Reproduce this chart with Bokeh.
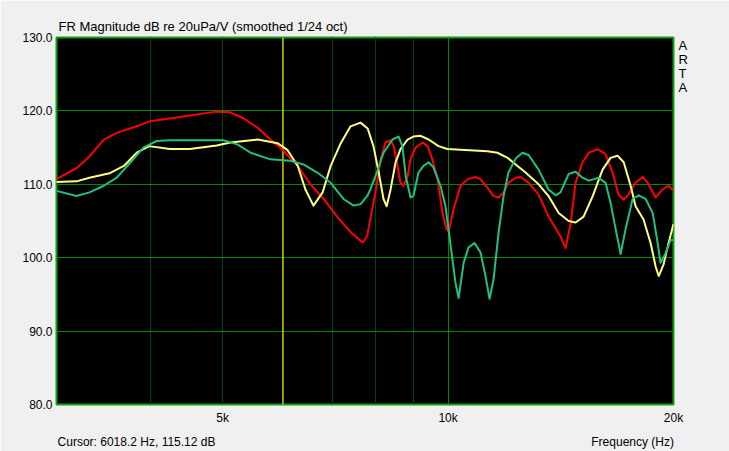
from bokeh.plotting import figure
from bokeh.models import FixedTicker, Grid, Span, PrintfTickFormatter, LinearAxis, LogAxis
from bokeh.embed import file_html
from bokeh.resources import INLINE

# ---------------- data ----------------
red_freq = [3000, 3190, 3320, 3470, 3610, 3840, 4000, 4340, 4910, 5120,
            5330, 5570, 5790, 6010, 6300, 6550, 6820, 7120, 7410, 7640,
            7700, 7800, 7880, 8000, 8130, 8250, 8380, 8460, 8560, 8640,
            8720, 8830, 8910, 9050, 9250, 9390, 9530, 9680, 9830, 9950,
            10020, 10170, 10390, 10620, 10880, 11050, 11290, 11500, 11680, 11860,
            12040, 12310, 12500, 12810, 13210, 13620, 13920, 14130, 14350, 14580,
            14800, 15120, 15410, 15840, 16230, 16580, 16890, 17160, 17420, 17800,
            18190, 18470, 18930, 19340, 19700, 20000]
red_db = [110.7, 112.2, 113.8, 116.1, 117.0, 117.9, 118.6, 119.1, 119.9, 119.8,
          119.0, 117.7, 116.1, 114.7, 112.5, 110.0, 108.0, 105.5, 103.5, 102.3,
          102.1, 103.0, 105.5, 108.9, 113.4, 115.7, 116.0, 115.2, 112.5, 110.2,
          109.8, 111.1, 113.4, 115.0, 115.7, 115.2, 113.4, 110.7, 106.1, 103.9,
          103.6, 106.6, 109.8, 110.7, 111.0, 110.7, 109.5, 108.4, 108.2, 108.9,
          110.2, 110.9, 111.0, 110.2, 108.6, 105.6, 104.0, 102.9, 101.3, 104.7,
          110.2, 113.0, 114.3, 114.8, 114.1, 111.6, 108.6, 107.9, 108.6, 110.2,
          111.0, 110.2, 108.2, 109.3, 109.8, 109.1]

green_freq = [3000, 3190, 3320, 3470, 3610, 3760, 3920, 4080, 4250, 4910,
              5010, 5240, 5450, 5790, 6160, 6410, 6690, 6970, 7250, 7480,
              7640, 7810, 7880, 8000, 8200, 8430, 8590, 8690, 8780, 8910,
              8990, 9130, 9270, 9420, 9560, 9770, 9920, 10080, 10230, 10330,
              10490, 10650, 10850, 11050, 11220, 11360, 11500, 11680, 11860, 12040,
              12310, 12570, 12810, 13210, 13620, 13920, 14130, 14490, 14800, 15120,
              15410, 15890, 16230, 16480, 16740, 17000, 17260, 17640, 17970, 18360,
              18760, 19050, 19220, 19520, 19820, 20000]
green_db = [109.1, 108.4, 108.9, 109.8, 110.9, 112.9, 115.0, 115.9, 116.0, 116.0,
            116.0, 115.4, 114.3, 113.4, 113.2, 112.7, 111.6, 110.2, 108.0, 107.1,
            107.3, 108.5, 109.4, 111.1, 114.3, 116.1, 116.5, 115.2, 111.1, 108.2,
            108.4, 111.6, 112.5, 113.0, 112.3, 109.8, 107.0, 101.6, 96.6, 94.5,
            99.3, 101.4, 102.0, 100.7, 97.5, 94.4, 97.0, 103.4, 108.4, 111.6,
            113.5, 114.3, 114.0, 112.0, 109.3, 108.5, 108.9, 111.4, 111.7, 110.9,
            110.5, 110.9, 110.2, 107.5, 103.9, 100.5, 103.9, 108.0, 108.5, 108.0,
            106.1, 102.0, 99.3, 100.6, 102.4, 102.4]

yellow_freq = [3000, 3190, 3320, 3530, 3690, 3840, 3990, 4250, 4520, 4910,
               5120, 5570, 5920, 6100, 6300, 6450, 6610, 6800, 6970, 7190,
               7410, 7640, 7810, 7950, 8080, 8200, 8280, 8380, 8510, 8640,
               8830, 8990, 9190, 9420, 9710, 9980, 10390, 11290, 11640, 12010,
               12310, 12690, 13210, 13620, 14050, 14490, 14800, 15170, 15600, 16080,
               16480, 16840, 17160, 17530, 17800, 18240, 18640, 18930, 19110, 19400,
               19700, 20000]
yellow_db = [110.3, 110.4, 110.9, 111.5, 112.5, 114.3, 115.2, 114.8, 114.8, 115.3,
             115.7, 116.1, 115.6, 114.7, 112.5, 109.3, 107.1, 108.9, 112.5, 115.6,
             117.9, 118.4, 117.6, 115.2, 111.6, 108.0, 107.0, 109.3, 113.0, 114.8,
             116.1, 116.5, 116.6, 116.1, 115.2, 114.8, 114.7, 114.5, 114.3, 113.6,
             112.7, 111.6, 110.0, 108.4, 106.1, 105.0, 104.8, 105.6, 108.4, 112.0,
             113.6, 113.9, 113.0, 109.8, 107.0, 105.2, 102.0, 98.8, 97.5, 99.1,
             102.0, 104.6]

x_ticks = [5000, 10000, 20000]
x_tick_labels = ["5k", "10k", "20k"]
y_ticks = [80, 90, 100, 110, 120, 130]
y_grid_values = [90, 100, 110, 120]
minor_grid_freqs = [4000, 5000, 7000, 8000, 9000]
major_grid_freqs = [10000]
cursor_freq = 6018.2
cursor_db = 115.12
title_text = "FR Magnitude dB re 20uPa/V (smoothed 1/24 oct)"
cursor_text = f"Cursor: {cursor_freq} Hz, {cursor_db} dB"
x_label_text = "Frequency (Hz)"
# footer line: texts and the x positions (Hz) they are centred on
footer_texts = [cursor_text, x_label_text]
footer_positions = [3837, 17638]
# brand letters down the right side and the y positions (dB) they sit at
brand_letters = ["A", "R", "T", "A"]
brand_positions = [128.9, 127.0, 125.1, 123.2]

FONT = "Liberation Sans"

p = figure(width=729, height=451, x_axis_type="log",
           x_range=(3000, 20000), y_range=(80, 130),
           output_backend="svg", toolbar_location=None,
           min_border_left=56, min_border_right=56,
           min_border_top=37, min_border_bottom=46)

p.background_fill_color = "black"
p.border_fill_color = "#f0f0f0"
p.outline_line_color = "#10a010"
p.outline_line_width = 2

# title
p.title.text = title_text
p.title.align = "left"
p.title.offset = 2
p.title.standoff = 8
p.title.text_font = FONT
p.title.text_font_size = "13px"
p.title.text_font_style = "normal"
p.title.text_color = "black"

# main axes
p.xaxis.ticker = FixedTicker(ticks=x_ticks)
p.xaxis.major_label_overrides = {t: l for t, l in zip(x_ticks, x_tick_labels)}
p.yaxis.ticker = FixedTicker(ticks=y_ticks)
p.yaxis.formatter = PrintfTickFormatter(format="%.1f")

# footer line (cursor readout + axis name) as a second bottom axis
footer_axis = LogAxis(ticker=FixedTicker(ticks=footer_positions),
                      major_label_overrides={t: l for t, l in zip(footer_positions, footer_texts)})
p.add_layout(footer_axis, "below")

# brand letters as a right axis
brand_axis = LinearAxis(ticker=FixedTicker(ticks=brand_positions),
                        major_label_overrides={t: l for t, l in zip(brand_positions, brand_letters)})
p.add_layout(brand_axis, "right")

for ax in list(p.xaxis) + list(p.yaxis):
    ax.axis_line_color = None
    ax.major_tick_line_color = None
    ax.minor_tick_line_color = None
    ax.major_tick_out = 0
    ax.major_tick_in = 0
    ax.minor_tick_out = 0
    ax.minor_tick_in = 0
    ax.major_label_text_font = FONT
    ax.major_label_text_font_size = "12px"
    ax.major_label_text_color = "black"
p.xaxis[0].major_label_standoff = 6
footer_axis.major_label_standoff = 7
p.yaxis[0].major_label_standoff = 4
brand_axis.major_label_standoff = 5
brand_axis.major_label_text_font_size = "13px"

# grids
p.xgrid.ticker = FixedTicker(ticks=minor_grid_freqs)
p.xgrid.grid_line_color = "#004a00"
p.xgrid.grid_line_width = 1
p.add_layout(Grid(dimension=0, ticker=FixedTicker(ticks=major_grid_freqs),
                  grid_line_color="#008800", grid_line_width=1))
p.ygrid.ticker = FixedTicker(ticks=y_grid_values)
p.ygrid.grid_line_color = "#008800"
p.ygrid.grid_line_width = 1

# cursor
p.add_layout(Span(location=cursor_freq, dimension="height",
                  line_color="#d0d000", line_width=1.5, level="underlay"))

# curves
p.line(red_freq, red_db, line_color="#ff0000", line_width=2, line_join="round")
p.line(yellow_freq, yellow_db, line_color="#ffff80", line_width=2, line_join="round")
p.line(green_freq, green_db, line_color="#20c080", line_width=2, line_join="round")

open("out.html", "w").write(file_html(p, INLINE))
